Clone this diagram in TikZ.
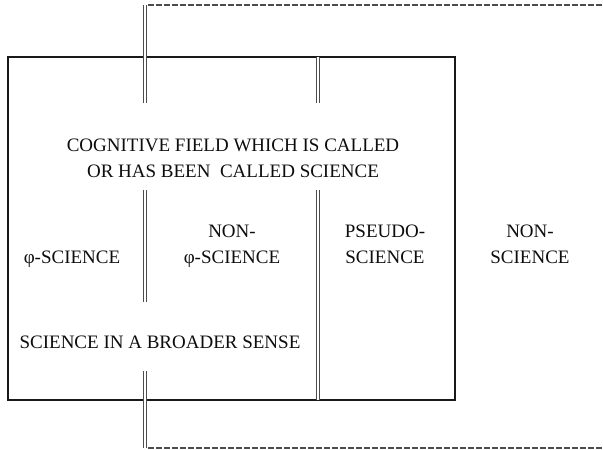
\documentclass[tikz,border=0pt]{standalone}
\usepackage{fontspec}
\setmainfont{Liberation Serif}
\begin{document}
\begin{tikzpicture}[x=1pt,y=-1pt,
  frame/.style={draw=black!90,line width=1.7pt},
  dbl/.style={draw=black!70,line width=0.75pt,double=white,double distance=2.2pt},
  dsh/.style={draw=black!70,line width=1.1pt,dash pattern=on 5.5pt off 2.5pt},
  lbl/.style={font=\fontsize{19}{25}\selectfont,text=black!95,inner sep=0pt,anchor=base}]
\useasboundingbox (0,0) rectangle (603,450);
% outer frame
\coordinate (tl) at (8,57);
\coordinate (br) at (455,400);
\draw[frame] (tl) rectangle (br);
% double line at x=318
\coordinate (m1) at (318,57);
\coordinate (m2) at (318,103);
\coordinate (m3) at (318,190);
\coordinate (m4) at (318,400);
\draw[dbl] (m1) -- (m2);
\draw[dbl] (m3) -- (m4);
% double line segments at x=145
\coordinate (a1) at (145,5);
\coordinate (a2) at (145,103);
\coordinate (b1) at (145,190);
\coordinate (b2) at (145,302);
\coordinate (c1) at (145,371);
\coordinate (c2) at (145,448);
\draw[dbl] (a1) -- (a2);
\draw[dbl] (b1) -- (b2);
\draw[dbl] (c1) -- (c2);
% dashed lines
\coordinate (d1) at (148,5);
\coordinate (d2) at (603,5);
\coordinate (e1) at (148,448);
\coordinate (e2) at (603,448);
\draw[dsh] (d1) -- (d2);
\draw[dsh] (e1) -- (e2);
% labels
\node[lbl] (cog1) at (233,151) {COGNITIVE FIELD WHICH IS CALLED};
\node[lbl] (cog2) at (233,177) {OR HAS BEEN\ \ CALLED SCIENCE};
\node[lbl] (phi) at (72,263) {φ-SCIENCE};
\node[lbl] (nonphi1) at (232,237) {NON-};
\node[lbl] (nonphi2) at (232,263) {φ-SCIENCE};
\node[lbl] (pseudo1) at (385,237) {PSEUDO-};
\node[lbl] (pseudo2) at (385,263) {SCIENCE};
\node[lbl] (nons1) at (530,237) {NON-};
\node[lbl] (nons2) at (530,263) {SCIENCE};
\node[lbl] (broad) at (160,348) {SCIENCE IN A BROADER SENSE};
\end{tikzpicture}
\end{document}
